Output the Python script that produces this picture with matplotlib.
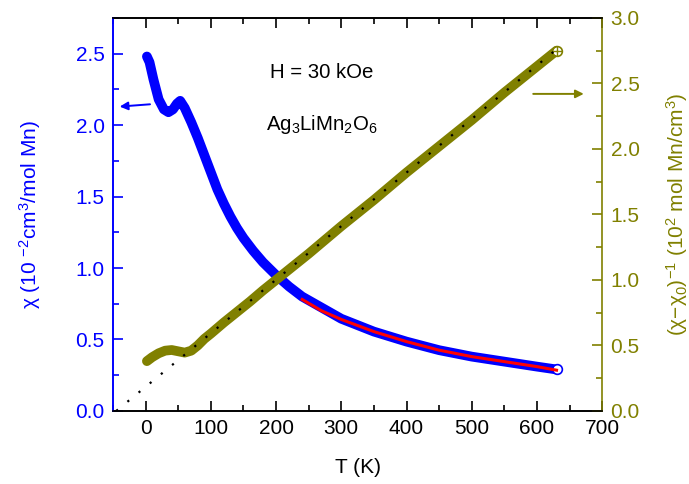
import matplotlib
matplotlib.use('Agg')
import matplotlib.pyplot as plt
from matplotlib.ticker import MultipleLocator

plt.rcParams['font.family'] = ['Liberation Sans', 'DejaVu Sans']
plt.rcParams['mathtext.fontset'] = 'custom'
plt.rcParams['mathtext.rm'] = 'Liberation Sans'
plt.rcParams['mathtext.it'] = 'Liberation Sans:italic'

BLUE = '#0000ff'
OLIVE = '#808000'

# susceptibility chi (10^-2 cm^3/mol Mn)
t_chi = [2, 6, 12, 20, 28, 35, 42, 48, 53, 60, 70, 80, 90, 100, 110, 120, 130,
         140, 150, 165, 180, 200, 220, 240, 300, 350, 400, 450, 500, 550, 600, 630]
chi = [2.48, 2.44, 2.32, 2.18, 2.11, 2.09, 2.11, 2.15, 2.17, 2.12, 2.02, 1.91,
       1.79, 1.67, 1.55, 1.45, 1.36, 1.28, 1.21, 1.12, 1.04, 0.95, 0.87, 0.80,
       0.645, 0.555, 0.485, 0.425, 0.38, 0.345, 0.31, 0.29]

# Curie-Weiss fit of chi (red)
t_fit = [240, 270, 300, 350, 400, 450, 500, 550, 600, 630]
chi_fit = [0.78, 0.70, 0.64, 0.555, 0.485, 0.425, 0.38, 0.345, 0.31, 0.285]

# inverse susceptibility (10^2 mol Mn/cm^3)
t_inv = [2, 10, 20, 30, 40, 50, 60, 70, 80, 90, 100, 120, 140, 160, 180, 200,
         250, 300, 350, 400, 450, 500, 550, 600, 630]
inv = [0.38, 0.41, 0.44, 0.46, 0.465, 0.455, 0.445, 0.46, 0.50, 0.55, 0.59,
       0.675, 0.755, 0.835, 0.92, 1.00, 1.20, 1.41, 1.61, 1.82, 2.02,
       2.22, 2.43, 2.63, 2.75]

# linear fit of the inverse (dotted)
t_line = [-45, 630]
inv_line = [0.0, 2.76]

fig = plt.figure(figsize=(6.89, 4.84), dpi=100)
ax = fig.add_axes([0.164, 0.151, 0.710, 0.812])
ax2 = ax.twinx()

ax.plot(t_chi, chi, color=BLUE, lw=7, solid_capstyle='round',
        solid_joinstyle='round', zorder=2)
ax.plot(t_chi[-1:], chi[-1:], 'o', ms=7, mfc='white', mec=BLUE, mew=1.2, zorder=3)
ax.plot(t_fit, chi_fit, color='red', lw=2.2, zorder=4)

ax2.plot(t_inv, inv, color=OLIVE, lw=7, solid_capstyle='round',
         solid_joinstyle='round', zorder=2)
ax2.plot(t_inv[-1:], inv[-1:], 'o', ms=7, mfc='white', mec=OLIVE, mew=1.2, zorder=3)
ax2.plot(t_inv[-1:], inv[-1:], '+', ms=7, mec=OLIVE, mew=1.0, zorder=3)
ax2.plot(t_line, inv_line, color='black', lw=1.6, ls=(0, (1, 5.5)), zorder=5)

ax.set_xlim(-50, 700)
ax.set_ylim(0, 2.75)
ax2.set_ylim(0, 3.0)

ax.xaxis.set_major_locator(MultipleLocator(100))
ax.xaxis.set_minor_locator(MultipleLocator(50))
ax.yaxis.set_major_locator(MultipleLocator(0.5))
ax.yaxis.set_minor_locator(MultipleLocator(0.25))
ax2.yaxis.set_major_locator(MultipleLocator(0.5))
ax2.yaxis.set_minor_locator(MultipleLocator(0.25))
ax.yaxis.set_major_formatter(plt.FormatStrFormatter('%.1f'))
ax2.yaxis.set_major_formatter(plt.FormatStrFormatter('%.1f'))

ax.tick_params(axis='x', which='both', direction='in', top=True, labelsize=15)
ax.tick_params(axis='x', which='major', length=7, width=1.2, pad=6)
ax.tick_params(axis='x', which='minor', length=4, width=1.2)
ax.tick_params(axis='y', which='both', direction='in', colors=BLUE, labelsize=15)
ax.tick_params(axis='y', which='major', length=7, width=1.2, pad=6)
ax.tick_params(axis='y', which='minor', length=4, width=1.2)
ax2.tick_params(axis='y', which='both', direction='in', colors=OLIVE, labelsize=15)
ax2.tick_params(axis='y', which='major', length=7, width=1.2, pad=6)
ax2.tick_params(axis='y', which='minor', length=4, width=1.2)

for a in (ax, ax2):
    for s in a.spines.values():
        s.set_linewidth(1.2)
ax2.spines['left'].set_color(BLUE)
ax2.spines['right'].set_color(OLIVE)
ax.spines['left'].set_color(BLUE)
ax.spines['right'].set_visible(False)

ax.set_xlabel('T (K)', fontsize=15, va='center')
ax.xaxis.set_label_coords(0.5, -0.145)
ax.set_ylabel(r'χ (10 $\mathregular{^{-2}}$cm$\mathregular{^3}$/mol Mn)',
              color=BLUE, fontsize=15, va='center')
ax.yaxis.set_label_coords(-0.170, 0.5)
ax2.set_ylabel(r'(χ$-$χ$\mathregular{_0}$)$\mathregular{^{-1}}$ '
               r'(10$\mathregular{^2}$ mol Mn/cm$\mathregular{^3}$)',
               color=OLIVE, fontsize=15, rotation=90, va='center')
ax2.yaxis.set_label_coords(1.153, 0.5)

ax.text(0.427, 0.86, 'H = 30 kOe', transform=ax.transAxes, fontsize=14.7,
        ha='center', va='center')
ax.text(0.427, 0.728,
        r'Ag$\mathregular{_3}$LiMn$\mathregular{_2}$O$\mathregular{_6}$',
        transform=ax.transAxes, fontsize=14.7, ha='center', va='center')

ax.annotate('', xy=(-44, 2.128), xytext=(11, 2.147),
            arrowprops=dict(arrowstyle='-|>', color=BLUE, lw=1.4,
                            mutation_scale=12))
ax2.annotate('', xy=(676, 2.42), xytext=(590, 2.42),
             arrowprops=dict(arrowstyle='-|>', color=OLIVE, lw=1.4,
                             mutation_scale=12))

fig.savefig('out.png', dpi=100)
